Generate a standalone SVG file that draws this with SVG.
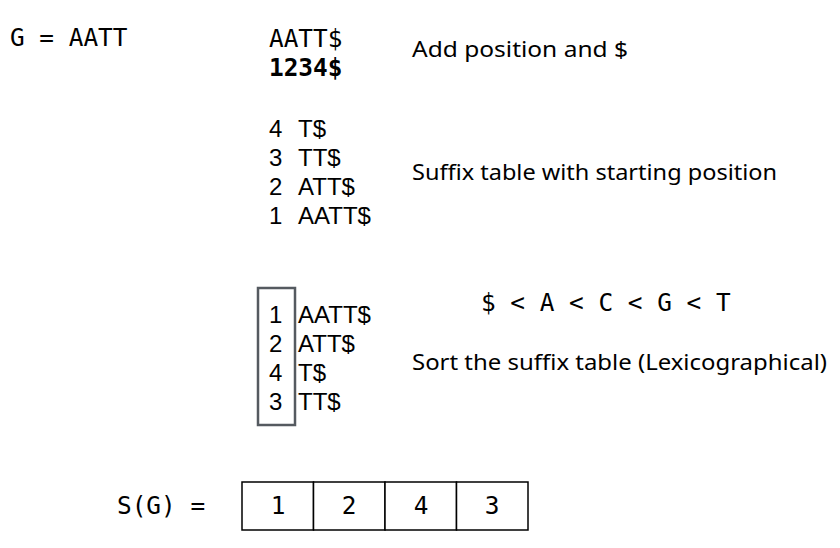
<svg xmlns="http://www.w3.org/2000/svg" width="840" height="548" viewBox="0 0 840 548">
<style>
.mono{font-family:"DejaVu Sans Mono","Liberation Mono",monospace;font-size:24.4px;fill:#000}
.sans{font-family:"Liberation Sans",Arial,sans-serif;font-size:24px;fill:#000}
.lab{font-family:"Noto Sans","Lato",sans-serif;font-size:22.5px;fill:#000}
.cell{fill:#fff;stroke:#000;stroke-width:1.5}
</style>
<rect width="840" height="548" fill="#fff"/>
<g id="g-def"><text class="mono" x="10" y="46">G = AATT</text></g>
<g id="step1">
<text class="mono" x="269" y="47">AATT$<tspan x="269" y="76" font-weight="bold">1234$</tspan></text>
<text class="lab" x="412" y="57" textLength="216" lengthAdjust="spacingAndGlyphs">Add position and $</text>
</g>
<g id="step2">
<text class="sans"><tspan x="269" y="137">4</tspan><tspan x="298" y="137">T$</tspan><tspan x="269" y="166">3</tspan><tspan x="298" y="166">TT$</tspan><tspan x="269" y="195">2</tspan><tspan x="298" y="195">ATT$</tspan><tspan x="269" y="224">1</tspan><tspan x="298" y="224">AATT$</tspan></text>
<text class="lab" x="412" y="180" textLength="365" lengthAdjust="spacingAndGlyphs">Suffix table with starting position</text>
</g>
<g id="step3">
<rect x="258" y="288" width="37" height="137" fill="none" stroke="#555a60" stroke-width="2.5"/>
<text class="sans"><tspan x="269" y="323">1</tspan><tspan x="298" y="323">AATT$</tspan><tspan x="269" y="352">2</tspan><tspan x="298" y="352">ATT$</tspan><tspan x="269" y="381">4</tspan><tspan x="298" y="381">T$</tspan><tspan x="269" y="410">3</tspan><tspan x="298" y="410">TT$</tspan></text>
<text class="mono" x="481" y="311">$ &lt; A &lt; C &lt; G &lt; T</text>
<text class="lab" x="412" y="370" textLength="415" lengthAdjust="spacingAndGlyphs">Sort the suffix table (Lexicographical)</text>
</g>
<g id="result">
<text class="mono" x="117" y="514">S(G) =</text>
<rect class="cell" x="242" y="482" width="71.5" height="48"/>
<rect class="cell" x="313.5" y="482" width="71.5" height="48"/>
<rect class="cell" x="385" y="482" width="71.5" height="48"/>
<rect class="cell" x="456.5" y="482" width="71.5" height="48"/>
<text class="mono" x="278" y="514" text-anchor="middle">1</text>
<text class="mono" x="349" y="514" text-anchor="middle">2</text>
<text class="mono" x="421" y="514" text-anchor="middle">4</text>
<text class="mono" x="492" y="514" text-anchor="middle">3</text>
</g>
<g id="connectors"/>
</svg>
